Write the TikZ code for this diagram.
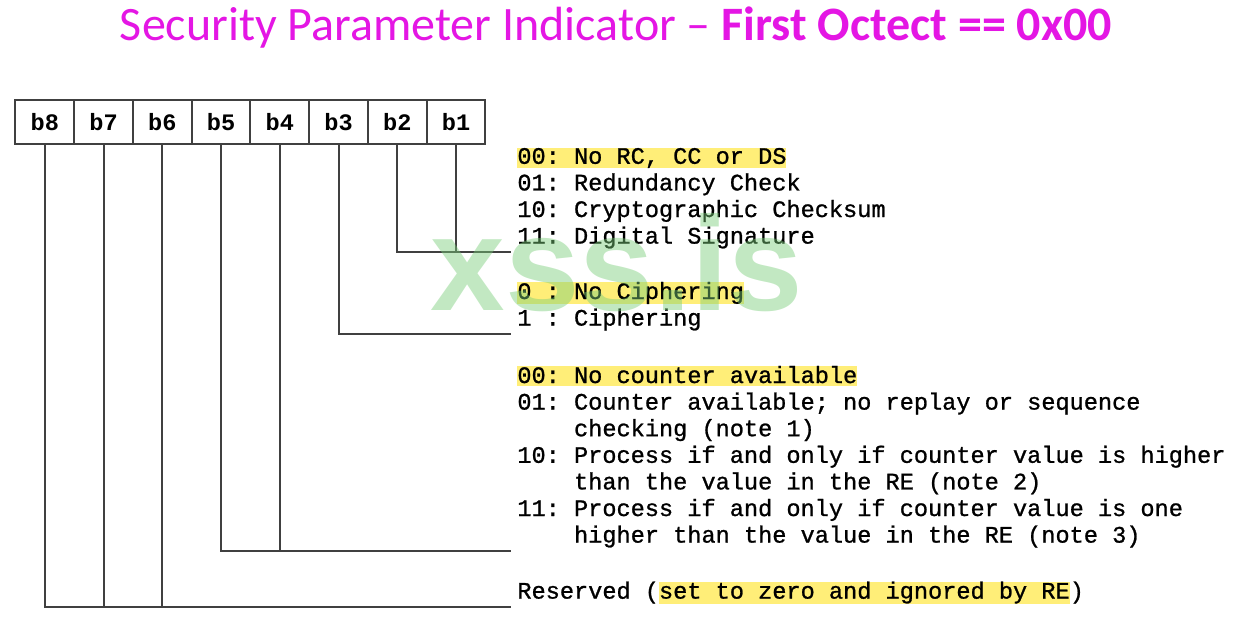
\documentclass[tikz,border=0pt]{standalone}
\usepackage{fontspec}
\setmainfont{Carlito}
\setmonofont{Liberation Mono}[UprightFeatures={FakeBold=1}]
\newfontfamily\markfont{Liberation Sans}
\usetikzlibrary{matrix, positioning}

\definecolor{titlepink}{RGB}{228,22,228}
\definecolor{hlyellow}{RGB}{255,238,120}
\definecolor{wiregray}{RGB}{64,64,64}
\definecolor{markgreen}{RGB}{120,205,120}

% yellow marker behind a piece of text
\newcommand{\hlt}[1]{{\setlength{\fboxsep}{0pt}\colorbox{hlyellow}{\rule[-1.6pt]{0pt}{8.2pt}#1}}}
\newcommand{\ind}{\phantom{00: }}

\begin{document}
\begin{tikzpicture}[
				x=0.5pt, y=-0.5pt,
				font=\ttfamily\fontsize{11.8}{13.3}\selectfont,
				bitcell/.style={draw=wiregray, line width=1pt, minimum width=29.375pt, minimum height=22pt, inner sep=0pt, anchor=center},
				wire/.style={draw=wiregray, line width=1pt},
				opts/.style={align=left, anchor=south west, inner xsep=3pt, inner ysep=0pt, text depth=4pt}
				]
				\useasboundingbox (0,0) rectangle (1236,638);
				
				\node[font=\rmfamily\fontsize{24}{26}\selectfont, text=titlepink] (title) at (616,28)
					{Security Parameter Indicator -- \textbf{First Octect == 0x00}};
				
				\matrix (bits) [matrix of nodes, ampersand replacement=\&, column sep=-1pt, inner sep=0pt, anchor=north west, nodes={bitcell, font=\ttfamily\bfseries\fontsize{11.8}{13.3}\selectfont}] at (14,99)
				{
					|(b8)| b8 \& |(b7)| b7 \& |(b6)| b6 \& |(b5)| b5 \& 
					|(b4)| b4 \& |(b3)| b3 \& |(b2)| b2 \& |(b1)| b1 \\
				};
				
				\node[opts] (sec) at (511,252) {\hlt{00: No RC, CC or DS}\\
					01: Redundancy Check\\
					10: Cryptographic Checksum\\
					11: Digital Signature};
				\node[opts] (ciph) at (511,334) {\hlt{0 : No Ciphering}\\
					1 : Ciphering};
				\node[opts] (cnt) at (511,551) {\hlt{00: No counter available}\\
					01: Counter available; no replay or sequence\\
					\ind checking (note 1)\\
					10: Process if and only if counter value is higher\\
					\ind than the value in the RE (note 2)\\
					11: Process if and only if counter value is one\\
					\ind higher than the value in the RE (note 3)};
				\node[opts] (rsv) at (511,607) {Reserved (\hlt{set to zero and ignored by RE})};
				
				\draw[wire] (b2.south) |- (sec.south west);
				\draw[wire] (b1.south) -- (b1.south |- sec.south west);
				\draw[wire] (b3.south) |- (ciph.south west);
				\draw[wire] (b5.south) |- (cnt.south west);
				\draw[wire] (b4.south) -- (b4.south |- cnt.south west);
				\draw[wire] (b8.south) |- (rsv.south west);
				\draw[wire] (b7.south) -- (b7.south |- rsv.south west);
				\draw[wire] (b6.south) -- (b6.south |- rsv.south west);
				
				\node[font=\markfont\bfseries\fontsize{67}{67}\selectfont, text=markgreen, opacity=0.45] (mark) at (617,263) {xss.is};
				\end{tikzpicture}
\end{document}
